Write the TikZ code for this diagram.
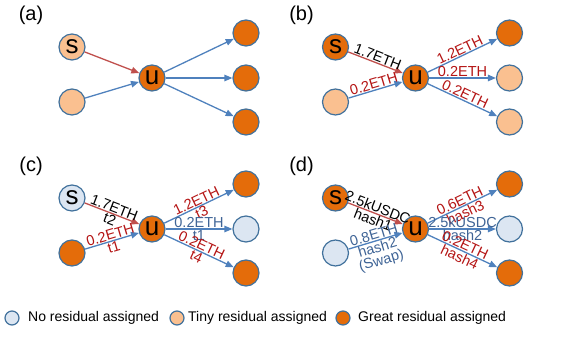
\documentclass[tikz,border=0pt]{standalone}
\usepackage{fontspec}
\setmainfont{Liberation Sans}
\usetikzlibrary{arrows.meta}
\definecolor{N}{RGB}{220,230,242}
\definecolor{T}{RGB}{250,192,144}
\definecolor{G}{RGB}{228,108,10}
\definecolor{rim}{RGB}{65,113,156}
\definecolor{eblue}{RGB}{79,129,189}
\definecolor{ered}{RGB}{192,80,77}
\definecolor{lred}{RGB}{180,20,20}
\definecolor{lblue}{RGB}{63,100,150}
\newcommand{\bigfont}{\fontsize{26}{26}\selectfont}
\newcommand{\lblfont}{\fontsize{14.5}{13}\selectfont}
\tikzset{
  vtx/.style={circle,draw=rim,line width=1.2pt,minimum size=26pt,inner sep=0pt,font=\bigfont},
  nonode/.style={vtx,fill=N},
  tinynode/.style={vtx,fill=T},
  greatnode/.style={vtx,fill=G},
  bluearr/.style={draw=eblue,line width=1.3pt,-{Triangle[length=8pt,width=6.5pt]}},
  redarr/.style={draw=ered,line width=1.3pt,-{Triangle[length=8pt,width=6.5pt]}},
  lbl/.style={sloped,inner sep=0.6pt,font=\lblfont,align=center},
  rl/.style={lbl,text=lred},
  bl/.style={lbl,text=lblue},
  kl/.style={lbl,text=black},
  tag/.style={font=\fontsize{20}{20}\selectfont},
  legdot/.style={circle,draw=rim,line width=1.2pt,minimum size=14pt,inner sep=0pt},
  legtxt/.style={anchor=west,inner sep=0pt,font=\fontsize{14}{14}\selectfont}
}
\begin{document}
\begin{tikzpicture}[x=1pt,y=1pt]
\useasboundingbox (0,0) rectangle (586,337);
% (a)
\node[tag] (atag) at (31,322) {(a)};
\node[tinynode] (as) at (72,290) {s};
\node[tinynode] (al) at (72,235) {};
\node[greatnode] (au) at (152,259) {u};
\node[greatnode] (a1) at (246,304) {};
\node[greatnode] (a2) at (246,259) {};
\node[greatnode] (a3) at (246,215) {};
\draw[redarr] (as) -- (au);
\draw[bluearr] (al) -- (au);
\draw[bluearr] (au) -- (a1);
\draw[bluearr] (au) -- (a2);
\draw[bluearr] (au) -- (a3);
% (b)
\begin{scope}[shift={(263.5,0)}]
\node[tag] (btag) at (38,322) {(b)};
\node[greatnode] (bs) at (72,290) {s};
\node[tinynode] (bl) at (72,235) {};
\node[greatnode] (bu) at (152,259) {u};
\node[greatnode] (b1) at (246,304) {};
\node[tinynode] (b2) at (246,259) {};
\node[tinynode] (b3) at (246,215) {};
\draw[redarr] (bs) -- node[kl,above] {1.7ETH} (bu);
\draw[bluearr] (bl) -- node[rl,above] {0.2ETH} (bu);
\draw[bluearr] (bu) -- node[rl,above] {1.2ETH} (b1);
\draw[bluearr] (bu) -- node[rl,above] {0.2ETH} (b2);
\draw[bluearr] (bu) -- node[rl,above] {0.2ETH} (b3);
\end{scope}
% (c)
\begin{scope}[shift={(0,-151)}]
\node[tag] (ctag) at (31,322) {(c)};
\node[nonode] (cs) at (72,290) {s};
\node[greatnode] (cl) at (72,235) {};
\node[greatnode] (cu) at (152,259) {u};
\node[greatnode] (c1) at (246,304) {};
\node[nonode] (c2) at (246,259) {};
\node[greatnode] (c3) at (246,215) {};
\draw[redarr] (cs) -- node[kl,above] {1.7ETH} node[kl,below] {t2} (cu);
\draw[bluearr] (cl) -- node[rl,above] {0.2ETH} node[rl,below] {t1} (cu);
\draw[bluearr] (cu) -- node[rl,above] {1.2ETH} node[rl,below] {t3} (c1);
\draw[bluearr] (cu) -- node[bl,above] {0.2ETH} node[bl,below] {t1} (c2);
\draw[bluearr] (cu) -- node[rl,above] {0.2ETH} node[rl,below] {t4} (c3);
\end{scope}
% (d)
\begin{scope}[shift={(263.5,-151)}]
\node[tag] (dtag) at (38,322) {(d)};
\node[greatnode] (ds) at (72,290) {s};
\node[nonode] (dl) at (72,235) {};
\node[greatnode] (du) at (152,259) {u};
\node[greatnode] (d1) at (246,304) {};
\node[nonode] (d2) at (246,259) {};
\node[greatnode] (d3) at (246,215) {};
\draw[redarr] (ds) -- node[kl,above] {2.5kUSDC} node[kl,below] {hash1} (du);
\draw[bluearr] (dl) -- node[bl,above] {0.8ETH} node[bl,below] {hash2\\(Swap)} (du);
\draw[bluearr] (du) -- node[rl,above] {0.6ETH} node[rl,below] {hash3} (d1);
\draw[bluearr] (du) -- node[bl,above] {2.5kUSDC} node[bl,below] {hash2} (d2);
\draw[bluearr] (du) -- node[rl,above] {0.2ETH} node[rl,below] {hash4} (d3);
\end{scope}
% legend
\node[legdot,fill=N] (kn) at (12,19) {};
\node[legtxt] (knt) at (28,19) {No residual assigned};
\node[legdot,fill=T] (kt) at (177,19) {};
\node[legtxt] (ktt) at (188,19) {Tiny residual assigned};
\node[legdot,fill=G] (kg) at (343,19) {};
\node[legtxt] (kgt) at (358,19) {Great residual assigned};
\end{tikzpicture}
\end{document}
